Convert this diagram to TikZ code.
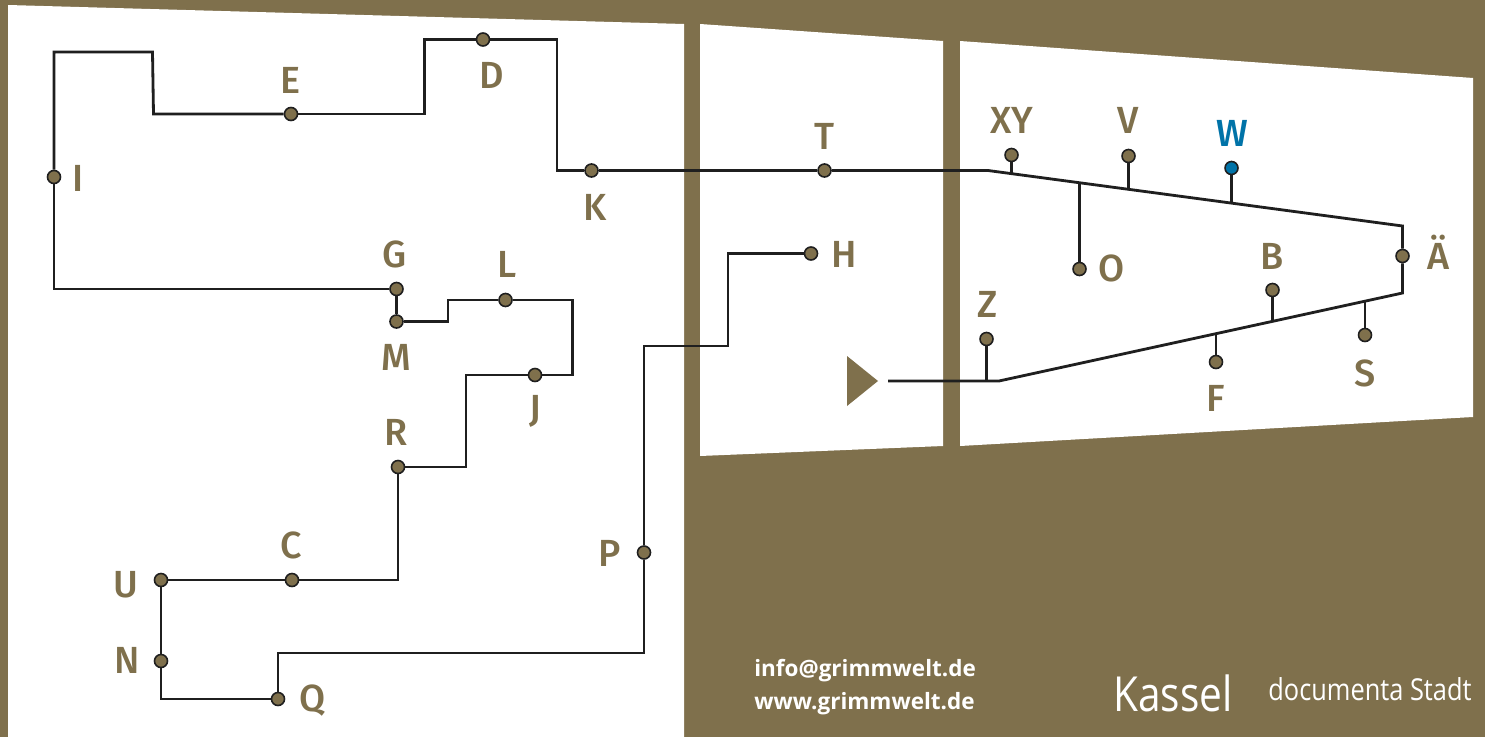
\documentclass[tikz,border=0pt]{standalone}
\usepackage{fontspec}
\setsansfont{Fira Sans Medium}
\newfontfamily\footfont{Open Sans}
\newfontfamily\stadtfont[FakeStretch=0.84]{Open Sans}
\usepackage{tikz}
\usetikzlibrary{positioning,calc}
\definecolor{wallbrown}{HTML}{7F704C}
\definecolor{stopblue}{HTML}{0073A8}
\tikzset{
stopdot/.style={circle,draw=black!88,fill=wallbrown,line width=0.9pt,minimum size=7.4pt,inner sep=0pt},
stoplabel/.style={text=wallbrown,font=\sffamily\fontsize{21.5}{21.5}\selectfont,inner sep=0pt,anchor=center},
route/.style={draw=black!88,line width=1.6pt,line join=miter},
spur/.style={draw=black!88,line width=1.3pt},
footnote/.style={text=white,inner sep=0pt,anchor=west,font=\footfont\bfseries\fontsize{12.8}{14}\selectfont}
}

\begin{document}
\begin{tikzpicture}[x=0.02cm,y=-0.02cm]
\useasboundingbox (0,0) rectangle (1485,737);
\fill[wallbrown] (0,0) rectangle (1485,737);
\fill[white] (8,5) -- (684,24) -- (684,737) -- (8,737) -- cycle;
\fill[white] (700,24) -- (943,41) -- (943,446) -- (700,456) -- cycle;
\fill[white] (960,41) -- (1473,78) -- (1473,417) -- (960,446) -- cycle;
\fill[wallbrown] (847,356) -- (878,381) -- (847,406) -- cycle;

% stops on the left
\node (e) at (291,114)[stopdot] {};
\node (d) at (483,39.5)[stopdot] {};
\node (k) at (591.5,170.5)[stopdot] {};
\node (i) at (54,177)[stopdot] {};
\node (g) at (396.5,289)[stopdot] {};
\node (m) at (396.5,321.5)[stopdot] {};
\node (l) at (505.5,300)[stopdot] {};
\node (j) at (535,375)[stopdot] {};
\node (r) at (398,467)[stopdot] {};
\node (c) at (292,580)[stopdot] {};
\node (u) at (161,580)[stopdot] {};
\node (n) at (161,661)[stopdot] {};
\node (q) at (278,699)[stopdot] {};
\node (p) at (644,552.5)[stopdot] {};
\node (h) at (811,253.5)[stopdot] {};
\node (t) at (824.5,170.5)[stopdot] {};

% stops on the right
\node (xy) at (1011.5,155)[stopdot] {};
\node (v) at (1128.5,156)[stopdot] {};
\node (w) at (1231.5,168)[stopdot,fill=stopblue] {};
\node (o) at (1079.5,269)[stopdot] {};
\node (ae) at (1402.5,256)[stopdot] {};
\node (b) at (1272.5,290)[stopdot] {};
\node (s) at (1365,335)[stopdot] {};
\node (f) at (1216,362)[stopdot] {};
\node (z) at (986.5,339)[stopdot] {};

\coordinate (start) at (888,381);
\coordinate (bendz) at (999,381);
\coordinate (bendt) at (988,170.5);
\coordinate (aetop) at (1402.5,226);
\coordinate (aelow) at (1402.5,293);
\coordinate (xyfoot) at (1011.5,173);
\coordinate (ofoot) at (1079.5,182);
\coordinate (vfoot) at (1128.5,189);
\coordinate (wfoot) at (1231.5,203);
\coordinate (zfoot) at (986.5,381);
\coordinate (ffoot) at (1216,333.5);
\coordinate (bfoot) at (1272.5,321.5);
\coordinate (sfoot) at (1365,301);

\draw[route] (i) -- (54,52) -- (152.5,52) -- (153.5,114) -- (e);
\draw[route] (e) -- (424.5,114) -- (424.5,39.5) -- (d);
\draw[route] (d) -- (557,39.5) -- (557,170.5) -- (k);
\draw[route] (k) -- (t);
\draw[route] (t) -- (bendt) -- (aetop) -- (ae);
\draw[route] (ae) -- (aelow) -- (bendz) -- (start);
\draw[route] (i) -- (54,289) -- (g);
\draw[route] (g) -- (m);
\draw[route] (m) -- (448,321.5) -- (448,300) -- (l);
\draw[route] (l) -- (572.5,300) -- (572.5,375) -- (j);
\draw[route] (j) -- (466,375) -- (466,467) -- (r);
\draw[route] (r) -- (398,580) -- (c);
\draw[route] (c) -- (u);
\draw[route] (u) -- (n);
\draw[route] (n) -- (161,699) -- (q);
\draw[route] (q) -- (278,653) -- (644,653) -- (p);
\draw[route] (p) -- (644,346) -- (728,346) -- (728,253.5) -- (h);

\draw[spur] (xy) -- (xyfoot);
\draw[spur] (v) -- (vfoot);
\draw[spur] (w) -- (wfoot);
\draw[spur] (o) -- (ofoot);
\draw[spur] (b) -- (bfoot);
\draw[spur] (f) -- (ffoot);
\draw[spur] (s) -- (sfoot);
\draw[spur] (z) -- (zfoot);

% names of the stops
\node (le) at (291,80)[stoplabel] {E};
\node (ld) at (491.5,75)[stoplabel] {D};
\node (li) at (78,178)[stoplabel] {I};
\node (lk) at (595,207)[stoplabel] {K};
\node (lg) at (395,254.5)[stoplabel] {G};
\node (ll) at (507.5,264.5)[stoplabel] {L};
\node (lm) at (396,357)[stoplabel] {M};
\node (lj) at (535,411)[stoplabel] {J};
\node (lr) at (396,432.5)[stoplabel] {R};
\node (lc) at (291,545.5)[stoplabel] {C};
\node (lu) at (126,584.5)[stoplabel] {U};
\node (ln) at (127,660.5)[stoplabel] {N};
\node (lq) at (313,701)[stoplabel] {Q};
\node (lp) at (610,553.5)[stoplabel] {P};
\node (lt) at (825,136.5)[stoplabel] {T};
\node (lh) at (844,254.5)[stoplabel] {H};
\node (lxy) at (1012,120.5)[stoplabel] {XY};
\node (lv) at (1128,120.5)[stoplabel] {V};
\node (lw) at (1232,133.5)[stoplabel,text=stopblue] {W};
\node (lo) at (1112,268.5)[stoplabel] {O};
\node (lb) at (1272,256.5)[stoplabel] {B};
\node (lae) at (1438,252.5)[stoplabel] {Ä};
\node (lz) at (988,304.5)[stoplabel] {Z};
\node (lf) at (1216,398.5)[stoplabel] {F};
\node (ls) at (1365,373.5)[stoplabel] {S};

% footer
\node (mail) at (754,671)[footnote] {info@grimmwelt.de};
\node (web) at (754,704)[footnote] {www.grimmwelt.de};
\node (kassel) at (1113,693)[footnote,font=\stadtfont\fontsize{27.5}{27.5}\selectfont] {Kassel};
\node (stadt) at (1268,689)[footnote,font=\stadtfont\fontsize{17.2}{17.2}\selectfont] {documenta Stadt};
\end{tikzpicture}
\end{document}
